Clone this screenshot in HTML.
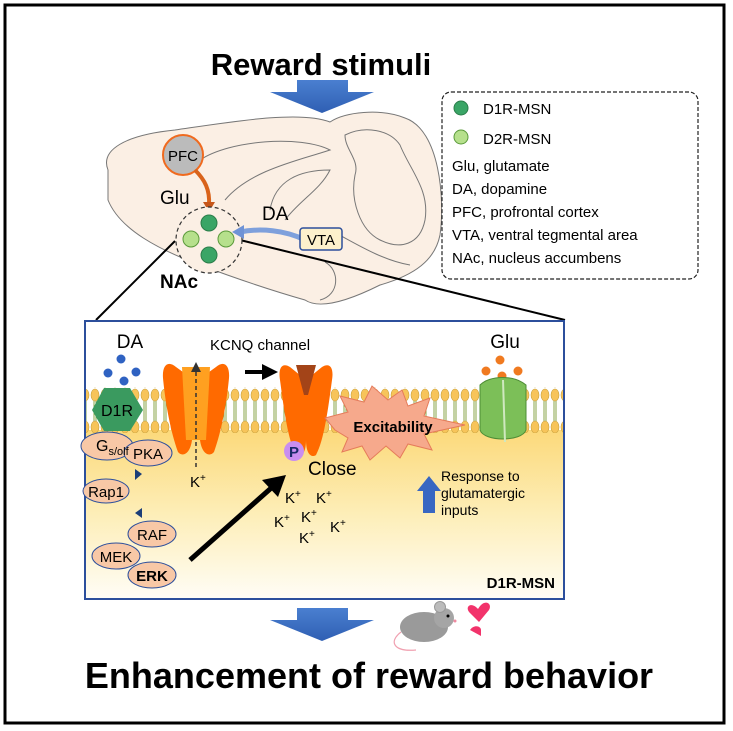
<!DOCTYPE html>
<html><head><meta charset="utf-8"><style>
html,body{margin:0;padding:0;background:#fff}
svg{display:block;font-family:"Liberation Sans",sans-serif}
</style></head><body>
<svg width="733" height="731" viewBox="0 0 733 731" xmlns="http://www.w3.org/2000/svg">
<defs>
<linearGradient id="cyt" x1="0" y1="0" x2="0" y2="1">
<stop offset="0" stop-color="#fcd97a"/><stop offset="0.5" stop-color="#fdeeb8"/><stop offset="1" stop-color="#fffdf6"/>
</linearGradient>
<linearGradient id="blueA" x1="0" y1="0" x2="0" y2="1"><stop offset="0" stop-color="#4a7fd0"/><stop offset="1" stop-color="#2f5fb3"/></linearGradient>
<pattern id="lipid" x="0" y="388" width="10" height="46" patternUnits="userSpaceOnUse">
<line x1="4" y1="8" x2="4" y2="38" stroke="#8aa64a" stroke-width="1"/>
<line x1="6" y1="8" x2="6" y2="38" stroke="#8aa64a" stroke-width="1"/>
<ellipse cx="5" cy="7" rx="4" ry="6" fill="#f7c45a" stroke="#c9a13c" stroke-width="0.6"/>
<ellipse cx="5" cy="39" rx="4" ry="6" fill="#f7c45a" stroke="#c9a13c" stroke-width="0.6"/>
</pattern>
</defs>
<rect x="5" y="5" width="719" height="718" fill="#fff" stroke="#000" stroke-width="3"/>
<text x="321" y="75" font-size="31" font-weight="bold" text-anchor="middle">Reward stimuli</text>
<polygon points="297,80 348,80 348,92 374,92 322,113 270,92 297,92" fill="url(#blueA)"/>

<!-- brain -->
<path d="M108,170 C100,150 125,135 175,130 C230,122 300,110 330,122 C345,112 380,108 405,118 C440,130 445,200 440,235 C435,260 415,275 380,285 C350,300 320,310 305,300 C270,290 240,280 200,265 C160,250 120,230 108,200 Z" fill="#fbefe4" stroke="#777" stroke-width="1"/>
<path d="M200,160 C230,140 300,135 330,150 C300,160 250,170 225,200" fill="none" stroke="#777" stroke-width="1"/>
<path d="M270,210 C275,180 300,170 330,170 C320,190 300,200 285,220" fill="none" stroke="#777" stroke-width="1"/>
<path d="M345,135 C365,125 390,130 400,145 C410,170 430,190 425,220 C420,245 400,250 380,240 C360,230 350,200 355,175 C360,160 345,150 345,135 Z" fill="none" stroke="#777" stroke-width="1"/>
<path d="M330,230 C350,240 380,260 410,265" fill="none" stroke="#777" stroke-width="1"/>
<path d="M325,262 C340,270 340,295 320,300" fill="none" stroke="#777" stroke-width="1"/>
<path d="M170,170 C175,160 175,150 165,150" fill="none" stroke="#777" stroke-width="1"/>
<!-- zoom lines -->
<line x1="175" y1="241" x2="96" y2="320" stroke="#000" stroke-width="2"/>
<line x1="240" y1="240" x2="565" y2="320" stroke="#000" stroke-width="2"/>
<!-- PFC -->
<circle cx="183" cy="155" r="20" fill="#bbb" stroke="#f06a1e" stroke-width="2"/>
<text x="183" y="161" font-size="15" text-anchor="middle">PFC</text>
<path d="M195,170 C205,180 210,190 209,205" fill="none" stroke="#d9631b" stroke-width="4"/>
<polygon points="203,202 215,202 209,212" fill="#c6561a"/>
<text x="160" y="204" font-size="19">Glu</text>
<!-- NAc -->
<circle cx="209" cy="240" r="33" fill="#fbefe4" stroke="#333" stroke-width="1.2" stroke-dasharray="4,3"/>
<circle cx="209" cy="223" r="8" fill="#3aa566" stroke="#2b7d4a"/>
<circle cx="209" cy="255" r="8" fill="#3aa566" stroke="#2b7d4a"/>
<circle cx="191" cy="239" r="8" fill="#b6e08c" stroke="#5a9a3a"/>
<circle cx="226" cy="239" r="8" fill="#b6e08c" stroke="#5a9a3a"/>
<text x="160" y="288" font-size="19" font-weight="bold">NAc</text>
<text x="262" y="220" font-size="19">DA</text>
<path d="M305,240 C285,230 260,228 240,232" fill="none" stroke="#7ea0dc" stroke-width="5"/>
<polygon points="232,232 244,225 244,239" fill="#6f93d6"/>
<rect x="300" y="228" width="42" height="22" rx="3" fill="#fdf1cc" stroke="#2c4f9c" stroke-width="1.5"/>
<text x="321" y="245" font-size="15" text-anchor="middle">VTA</text>

<!-- legend -->
<rect x="442" y="92" width="256" height="187" rx="9" fill="#fff" stroke="#222" stroke-width="1.2" stroke-dasharray="4,2"/>
<circle cx="461" cy="108" r="7" fill="#3aa566" stroke="#2b7d4a"/>
<text x="483" y="114" font-size="15">D1R-MSN</text>
<circle cx="461" cy="137" r="7" fill="#b6e08c" stroke="#5a9a3a"/>
<text x="483" y="144" font-size="15">D2R-MSN</text>
<text x="452" y="171" font-size="15">Glu, glutamate</text>
<text x="452" y="194" font-size="15">DA, dopamine</text>
<text x="452" y="217" font-size="15">PFC, profrontal cortex</text>
<text x="452" y="240" font-size="15">VTA, ventral tegmental area</text>
<text x="452" y="263" font-size="15">NAc, nucleus accumbens</text>

<!-- inner box -->
<rect x="85" y="321" width="479" height="278" fill="#fff"/>
<rect x="85" y="430" width="479" height="169" fill="url(#cyt)"/>
<rect x="85" y="387" width="479" height="46" fill="url(#lipid)"/>
<rect x="85" y="321" width="479" height="278" fill="none" stroke="#2c4f9c" stroke-width="2"/>

<text x="130" y="348" font-size="19" text-anchor="middle">DA</text>
<circle cx="121" cy="359" r="4.5" fill="#2f62c2"/><circle cx="108" cy="373" r="4.5" fill="#2f62c2"/>
<circle cx="136" cy="372" r="4.5" fill="#2f62c2"/><circle cx="124" cy="381" r="4.5" fill="#2f62c2"/>
<polygon points="104,388 130,388 143,410 130,431 104,431 92,410" fill="#3a9a5f"/>
<text x="117" y="416" font-size="16" text-anchor="middle">D1R</text>

<g stroke="#2c4f9c" stroke-width="1" fill="#f8c8a6">
<ellipse cx="107" cy="446" rx="26" ry="14"/><ellipse cx="148" cy="453" rx="24" ry="13"/>
<ellipse cx="106" cy="491" rx="23" ry="12"/><ellipse cx="152" cy="534" rx="24" ry="13"/>
<ellipse cx="116" cy="556" rx="24" ry="13"/><ellipse cx="152" cy="575" rx="24" ry="13"/>
</g>
<text x="96" y="451" font-size="16">G<tspan font-size="11" dy="4">s/olf</tspan></text>
<text x="148" y="459" font-size="15" text-anchor="middle">PKA</text>
<text x="106" y="497" font-size="15" text-anchor="middle">Rap1</text>
<text x="152" y="540" font-size="15" text-anchor="middle">RAF</text>
<text x="116" y="562" font-size="15" text-anchor="middle">MEK</text>
<text x="152" y="581" font-size="15" font-weight="bold" text-anchor="middle">ERK</text>
<polygon points="135,469 142,474 135,480" fill="#1c3e78"/>
<polygon points="142,508 135,513 142,518" fill="#1c3e78"/>

<!-- open KCNQ -->
<path d="M176,367 C168,360 162,365 163,378 C165,400 170,430 178,452 C182,457 190,455 192,440 L194,380 Z" fill="#ff6a00"/>
<path d="M216,367 C224,360 230,365 229,378 C227,400 222,430 214,452 C210,457 202,455 200,440 L198,380 Z" fill="#ff6a00"/>
<path d="M182,367 L210,367 L206,440 L186,440 Z" fill="#ffa020"/>
<line x1="196" y1="372" x2="196" y2="470" stroke="#333" stroke-width="1.5" stroke-dasharray="4,3"/>
<polygon points="196,362 191,372 201,372" fill="#333"/>
<text x="190" y="487" font-size="15">K<tspan font-size="10" dy="-6">+</tspan></text>
<text x="210" y="350" font-size="15">KCNQ channel</text>
<line x1="245" y1="372" x2="265" y2="372" stroke="#000" stroke-width="4"/>
<polygon points="262,364 278,372 262,380" fill="#000"/>

<!-- closed KCNQ -->
<path d="M290,367 C282,362 278,368 280,380 C284,410 288,440 296,455 C300,458 306,455 306,440 L306,380 Z" fill="#ff6a00"/>
<path d="M322,367 C330,362 334,368 332,380 C328,410 324,440 316,455 C312,458 306,455 306,440 L306,380 Z" fill="#ff6a00"/>
<path d="M296,365 L316,365 L308,395 L304,395 Z" fill="#a34418"/>
<circle cx="294" cy="451" r="10" fill="#c98ef0"/>
<text x="294" y="457" font-size="15" font-weight="bold" fill="#1a2a6a" text-anchor="middle">P</text>
<text x="308" y="475" font-size="19">Close</text>
<line x1="190" y1="560" x2="278" y2="482" stroke="#000" stroke-width="5"/>
<polygon points="286,475 262,480 278,497" fill="#000"/>
<g font-size="15">
<text x="285" y="503">K<tspan font-size="10" dy="-6">+</tspan></text>
<text x="316" y="503">K<tspan font-size="10" dy="-6">+</tspan></text>
<text x="274" y="527">K<tspan font-size="10" dy="-6">+</tspan></text>
<text x="301" y="522">K<tspan font-size="10" dy="-6">+</tspan></text>
<text x="330" y="532">K<tspan font-size="10" dy="-6">+</tspan></text>
<text x="299" y="543">K<tspan font-size="10" dy="-6">+</tspan></text>
</g>
<!-- Excitability star -->
<polygon points="335,430 325,418 348,412 340,396 364,402 372,386 388,400 402,390 408,406 430,398 424,416 465,425 424,434 432,450 408,444 400,458 386,446 370,460 362,446 342,452 348,438" fill="#f6a98c" stroke="#e57b5a"/>
<text x="393" y="432" font-size="15" font-weight="bold" text-anchor="middle">Excitability</text>

<!-- Glu receptor -->
<text x="505" y="348" font-size="19" text-anchor="middle">Glu</text>
<circle cx="500" cy="360" r="4.5" fill="#f07a20"/><circle cx="486" cy="371" r="4.5" fill="#f07a20"/>
<circle cx="518" cy="371" r="4.5" fill="#f07a20"/><circle cx="502" cy="376" r="4.5" fill="#f07a20"/>
<path d="M480,385 C490,375 514,375 526,385 L526,430 C522,442 484,442 480,430 Z" fill="#7cbf58" stroke="#4d8c35"/>
<path d="M503,380 L505,442" stroke="#cfe8bf" stroke-width="2"/>
<!-- response -->
<polygon points="417,491 429,476 441,491 435,491 435,513 423,513 423,491" fill="#3867c2"/>
<text x="441" y="481" font-size="14">Response to</text>
<text x="441" y="498" font-size="14">glutamatergic</text>
<text x="441" y="515" font-size="14">inputs</text>
<text x="555" y="588" font-size="15" font-weight="bold" text-anchor="end">D1R-MSN</text>

<!-- bottom arrow -->
<polygon points="297,608 348,608 348,620 374,620 322,641 270,620 297,620" fill="url(#blueA)"/>
<!-- mouse -->
<ellipse cx="424" cy="627" rx="24" ry="15" fill="#9a9a9a"/>
<circle cx="444" cy="618" r="10" fill="#a5a5a5"/>
<circle cx="440" cy="607" r="5.5" fill="#bbb" stroke="#999"/>
<circle cx="448" cy="616" r="1.5" fill="#000"/>
<circle cx="455" cy="621" r="1.5" fill="#f08aa0"/>
<path d="M401,632 C388,642 394,652 416,650" fill="none" stroke="#f0a0b0" stroke-width="1.2"/>
<path d="M478,609 C471,601 464,607 470,613 L479,622 L489,610 C493,603 484,598 478,609 Z" fill="#f2336b"/>
<path d="M481,636 L470,630 C474,624 481,626 481,630 Z" fill="#f2336b"/>
<text x="369" y="688" font-size="36" font-weight="bold" text-anchor="middle">Enhancement of reward behavior</text>
</svg>
</body></html>
